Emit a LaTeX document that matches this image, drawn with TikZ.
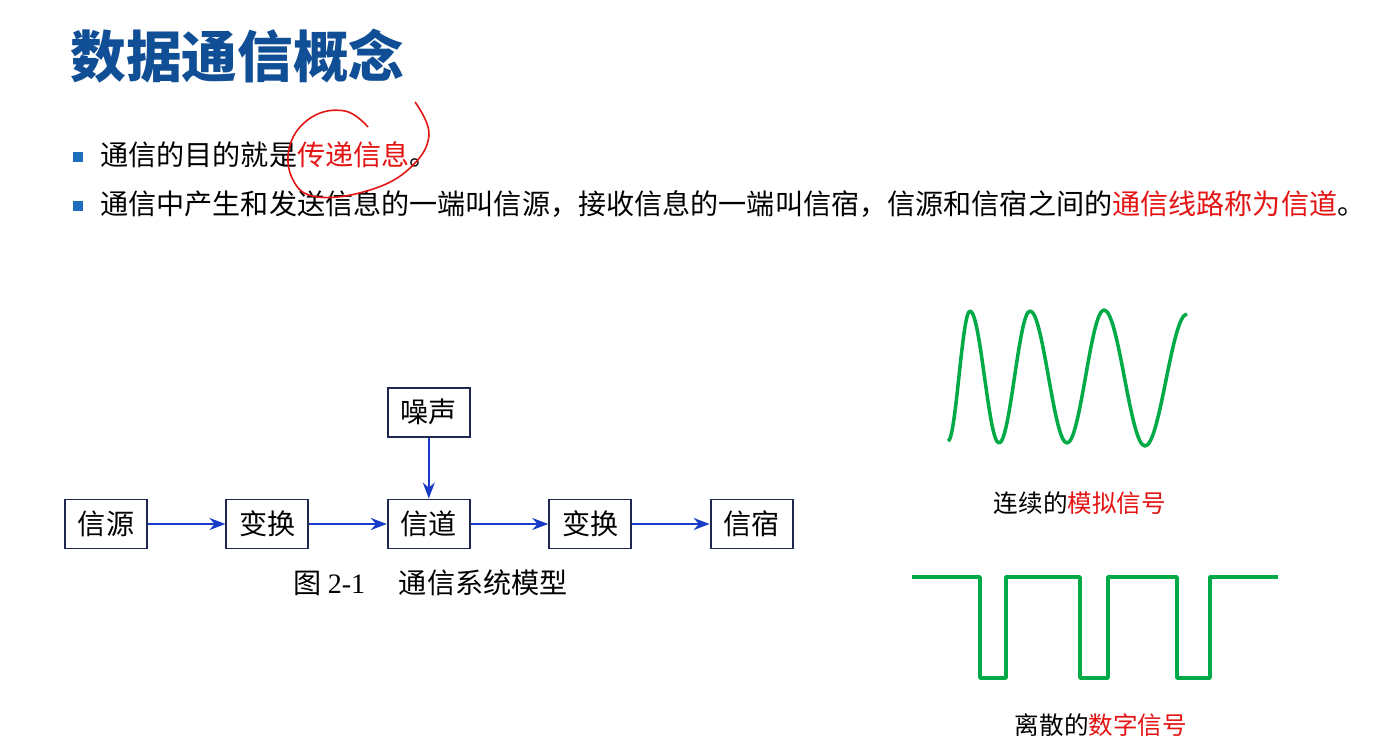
\documentclass[tikz,border=0pt]{standalone}
\usepackage{fontspec}
\setmainfont{Noto Sans CJK SC}
\newfontfamily\latinserif{Liberation Serif}
\usepackage{xcolor}
\usetikzlibrary{arrows.meta, positioning}
\definecolor{titleblue}{RGB}{16,78,150}
\definecolor{bulletblue}{RGB}{30,110,190}
\definecolor{markred}{RGB}{228,20,20}
\definecolor{wavegreen}{RGB}{0,170,70}
\definecolor{arrowblue}{RGB}{25,60,200}
\definecolor{boxline}{RGB}{30,40,80}

\begin{document}
\begin{tikzpicture}[
    x=0.02cm, y=-0.02cm,
    >={Stealth[length=3.2mm, width=2.4mm]},
    box/.style={draw=boxline, line width=1.1pt, minimum width=1.64cm, minimum height=0.98cm, inner sep=0pt, font=\fontsize{16}{16}\selectfont},
    flow/.style={->, line width=1.2pt, arrowblue},
    bullet/.style={fill=bulletblue, minimum size=0.2cm, inner sep=0pt},
    line/.style={anchor=west, inner sep=0pt, font=\fontsize{16}{16}\selectfont},
    wave/.style={wavegreen, line width=2pt, line join=round},
    label/.style={inner sep=0pt, font=\fontsize{14}{14}\selectfont},
]
    \useasboundingbox[fill=white] (0,0) rectangle (1378,749);

    % title and text
    \node[anchor=west, inner sep=0pt, text=titleblue, font=\fontsize{31.7}{32}\selectfont\bfseries] (title) at (70,56) {数据通信概念};
    \node[bullet] (b1) at (78,157) {};
    \node[line] (t1) at (100,155) {通信的目的就是\textcolor{markred}{传递信息}。};
    \node[bullet] (b2) at (78,206) {};
    \node[line] (t2) at (100,204) {通信中产生和发送信息的一端叫信源，接收信息的一端叫信宿，信源和信宿之间的\textcolor{markred}{通信线路称为信道}。};
    \draw[markred, line width=0.9pt] plot[smooth, tension=0.7] coordinates {(368,127) (345,111) (312,117) (290,145) (293,180) (318,197) (370,190) (410,168) (429,135) (415,102)};

    % model
    \node[box] (src) at (106,524) {信源};
    \node[box, right=1.55cm of src] (enc) {变换};
    \node[box, right=1.55cm of enc] (chan) {信道};
    \node[box, right=1.55cm of chan] (dec) {变换};
    \node[box, right=1.55cm of dec] (dst) {信宿};
    \node[box, above=1.22cm of chan] (noise) {噪声};
    \draw[flow] (src) -- (enc);
    \draw[flow] (enc) -- (chan);
    \draw[flow] (chan) -- (dec);
    \draw[flow] (dec) -- (dst);
    \draw[flow] (noise) -- (chan);
    \node[anchor=west, inner sep=0pt, font=\fontsize{16}{16}\selectfont] (cap) at (293,583) {图 {\latinserif 2-1}\hspace{1.2em}通信系统模型};

    % signals
    \draw[wave] (948,441) cos (959,376) sin (970,311) cos (984.5,377) sin (999,443)
        cos (1014.5,377) sin (1030,311) cos (1048.5,377) sin (1067,443)
        cos (1085.5,377) sin (1104,310) cos (1124.5,378) sin (1145,446)
        cos (1166,380) sin (1187,314);
    \node[label] (ana) at (1080,503) {连续的\textcolor{markred}{模拟信号}};
    \draw[wave] (912,577) -- (980,577) -- (980,678) -- (1006,678) -- (1006,577) -- (1080,577)
        -- (1080,678) -- (1108,678) -- (1108,577) -- (1177,577) -- (1177,678) -- (1210,678)
        -- (1210,577) -- (1278,577);
    \node[label] (dig) at (1101,725) {离散的\textcolor{markred}{数字信号}};
\end{tikzpicture}
\end{document}
